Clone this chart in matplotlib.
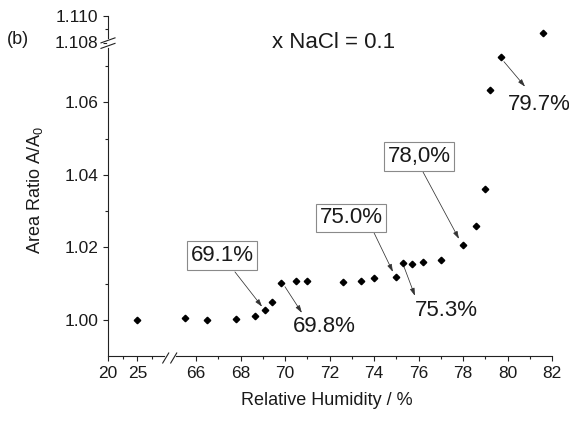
import numpy as np
import matplotlib
matplotlib.use("Agg")
import matplotlib.pyplot as plt
from matplotlib.ticker import FixedLocator, FixedFormatter
from matplotlib.lines import Line2D

plt.rcParams["font.family"] = ["Liberation Sans", "DejaVu Sans"]
plt.rcParams["mathtext.fontset"] = "custom"
plt.rcParams["mathtext.rm"] = "Liberation Sans"
plt.rcParams["mathtext.it"] = "Liberation Sans:italic"

# measured points: relative humidity (%) vs. area ratio A/A0
rh = [25.0, 65.5, 66.5, 67.8, 68.65, 69.1, 69.4, 69.8, 70.5, 71.0, 72.6, 73.4,
      74.0, 75.0, 75.3, 75.7, 76.2, 77.0, 78.0, 78.6, 79.0, 79.2, 79.7, 81.6]
ratio = [1.0000, 1.0006, 1.0000, 1.0003, 1.0011, 1.0028, 1.0050, 1.0101, 1.0106,
         1.0106, 1.0104, 1.0108, 1.0114, 1.0117, 1.0156, 1.0154, 1.0159, 1.0166,
         1.0207, 1.0259, 1.0361, 1.0633, 1.0726, 1.1087]

x_major = [20, 25, 66, 68, 70, 72, 74, 76, 78, 80, 82]
x_minor = [22.5, 27.5, 67, 69, 71, 73, 75, 77, 79, 81]
y_major = [1.00, 1.02, 1.04, 1.06, 1.108, 1.110]
y_major_labels = ["1.00", "1.02", "1.04", "1.06", "1.108", "1.110"]
y_minor = [1.01, 1.03, 1.05, 1.07, 1.109]

# annotations: (label, text pos, arrow tail, arrow tip, boxed)
notes = [
    ("69.1%", (67.17, 1.0178), (67.75, 1.0132), (68.97, 1.0036), True),
    ("69.8%", (71.75, 0.9981), (70.00, 1.0091), (70.76, 1.0019), False),
    ("75.0%", (72.97, 1.0281), (74.00, 1.0240), (74.85, 1.0132), True),
    ("75.3%", (77.24, 1.0025), (75.35, 1.0146), (75.84, 1.0066), False),
    ("78,0%", (76.02, 1.0450), (76.20, 1.0408), (77.82, 1.0223), True),
    ("79.7%", (81.42, 1.0593), (79.84, 1.0712), (80.79, 1.0643), False),
]


def broken_scale(bp_in, bp_out):
    """Piecewise linear mapping used for the broken axes."""
    bp_in = np.asarray(bp_in, float)
    bp_out = np.asarray(bp_out, float)
    s0 = (bp_out[1] - bp_out[0]) / (bp_in[1] - bp_in[0])
    s1 = (bp_out[-1] - bp_out[-2]) / (bp_in[-1] - bp_in[-2])
    big = 1e4
    xin = np.concatenate([[bp_in[0] - big], bp_in, [bp_in[-1] + big]])
    xout = np.concatenate([[bp_out[0] - big * s0], bp_out, [bp_out[-1] + big * s1]])
    return (lambda v: np.interp(v, xin, xout)), (lambda v: np.interp(v, xout, xin))


fig = plt.figure(figsize=(5.69, 4.21), dpi=100)
ax = fig.add_axes([108 / 569, 1 - 356 / 421, 444 / 569, 340.5 / 421])

ax.set_xscale("function", functions=broken_scale([20, 30, 65, 82], [0, 58.7, 65.75, 444]))
ax.set_yscale("function", functions=broken_scale([0.99, 1.076, 1.108, 1.110],
                                                 [0, 311.75, 313.5, 340.5]))

ax.plot(rh, ratio, linestyle="none", marker="D", markersize=3.3, color="black")

ax.set_xlim(20, 82)
ax.set_ylim(0.99, 1.110)

ax.xaxis.set_major_locator(FixedLocator(x_major))
ax.xaxis.set_major_formatter(FixedFormatter([str(v) for v in x_major]))
ax.xaxis.set_minor_locator(FixedLocator(x_minor))
ax.yaxis.set_major_locator(FixedLocator(y_major))
ax.yaxis.set_major_formatter(FixedFormatter(y_major_labels))
ax.yaxis.set_minor_locator(FixedLocator(y_minor))

for side in ["top", "right"]:
    ax.spines[side].set_visible(False)
for side in ["left", "bottom"]:
    ax.spines[side].set_linewidth(0.8)
    ax.spines[side].set_color("#222222")

ax.tick_params(which="major", direction="out", length=3.6, width=0.8,
               labelsize=12.5, pad=3.5, color="#222222", labelcolor="#1a1a1a")
ax.tick_params(which="minor", direction="out", length=2.2, width=0.8, color="#222222")

ax.set_xlabel("Relative Humidity / %", fontsize=13, color="#1a1a1a")
ax.xaxis.set_label_coords(0.492, -0.106)
ax.set_ylabel("Area Ratio A/A$_0$", fontsize=13, color="#1a1a1a")
ax.yaxis.set_label_coords(-0.142, 0.4875)

for label, txt, tail, tip, boxed in notes:
    ax.annotate("", xy=tip, xytext=tail,
                arrowprops=dict(arrowstyle="-|>,head_length=0.45,head_width=0.14",
                                color="#333333", lw=0.55, mutation_scale=10,
                                shrinkA=0, shrinkB=0))
    box = dict(boxstyle="square,pad=0.17", fc="white", ec="#8a8a8a", lw=0.8) if boxed else None
    ax.text(txt[0], txt[1], label, fontsize=16, ha="center", va="center",
            color="#1a1a1a", bbox=box)

fig.text(334 / 569, 1 - 43 / 421, "x NaCl = 0.1", fontsize=16, ha="center", va="center",
         color="#1a1a1a")
fig.text(18 / 569, 1 - 40 / 421, "(b)", fontsize=13, ha="center", va="center",
         color="#1a1a1a")

# break marks on the axes
to_fig = fig.transFigure.inverted()


def seg(p0, p1, color="#222222", lw=0.8):
    a = to_fig.transform(p0)
    b = to_fig.transform(p1)
    fig.add_artist(Line2D([a[0], b[0]], [a[1], b[1]], color=color, lw=lw,
                          transform=fig.transFigure, zorder=10))


bx0 = ax.transData.transform((30, 1.0))[0]
bx1 = ax.transData.transform((65, 1.0))[0]
cx = (bx0 + bx1) / 2
cy = ax.transAxes.transform((0, 0))[1]
seg((cx - 4, cy), (cx + 4, cy), color="white", lw=2)
seg((cx - 7.5, cy - 7), (cx - 1.5, cy + 3))
seg((cx + 0.5, cy - 7), (cx + 6.5, cy + 3))

by0 = ax.transData.transform((20, 1.076))[1]
by1 = ax.transData.transform((20, 1.108))[1]
cy = (by0 + by1) / 2
cx = ax.transAxes.transform((0, 0))[0]
seg((cx, cy - 3), (cx, cy + 3), color="white", lw=2)
seg((cx - 7, cy - 5), (cx + 7, cy))
seg((cx - 7, cy + 0.5), (cx + 7, cy + 5.5))

fig.savefig("out.png", dpi=100)
